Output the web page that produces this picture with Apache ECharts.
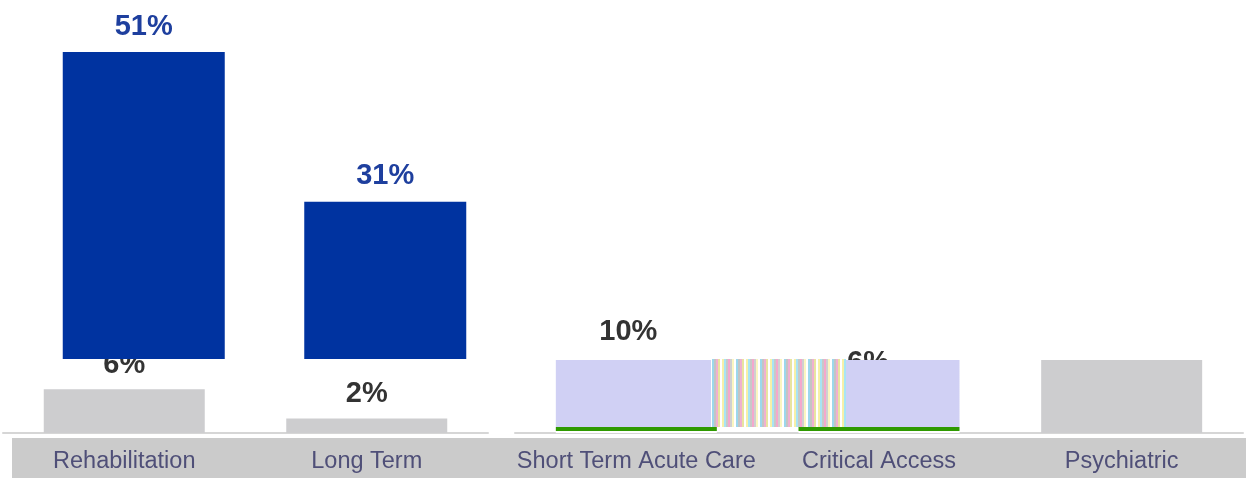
<!DOCTYPE html>
<html>
<head>
<meta charset="utf-8">
<script src="https://cdn.jsdelivr.net/npm/echarts@6/dist/echarts.min.js"></script>
<style>
  html, body { margin: 0; padding: 0; background: #fff; }
  #pic1 { width: 1246px; height: 478px; }
</style>
</head>
<body>
<div id="pic1"></div>
<script>
// chart data
var categories = ["Rehabilitation", "Long Term", "Short Term Acute Care", "Critical Access", "Psychiatric"];
var leadShare = [51, 31];             // blue bars, upper layer
var leadLabels = ["51%", "31%"];
var baseShare = [6, 2, 10, 10, 10];   // lower layer bars
var baseLabels = ["6%", "2%", "10%", "6%", ""];

var FONT = "'Liberation Sans', Arial, sans-serif";

// pastel stripes seen between the two lavender bars
function stripeCanvas() {
  var cols = ["#ffffff", "#f7f0a8", "#a8e4f4", "#c8c8c8", "#f4a8cc", "#d0d0d0",
              "#fbf6c0", "#ffffff", "#9cd8ec", "#c4c4c4", "#f0b0d0", "#e8e4a0"];
  var c = document.createElement("canvas");
  c.width = cols.length * 2;
  c.height = 4;
  var ctx = c.getContext("2d");
  cols.forEach(function (col, i) {
    ctx.fillStyle = col;
    ctx.fillRect(i * 2, 0, 2, 4);
  });
  return c;
}

var lavender = {
  type: "linear", x: 0, y: 0, x2: 0, y2: 1,
  colorStops: [
    { offset: 0, color: "#d0d0f4" },
    { offset: 0.918, color: "#d0d0f4" },
    { offset: 0.918, color: "#2f9a00" },
    { offset: 0.973, color: "#2f9a00" },
    { offset: 0.973, color: "#ffffff" },
    { offset: 1, color: "#ffffff" }
  ]
};

var numLabel = {
  show: true,
  position: "top",
  fontFamily: FONT,
  fontWeight: "bold",
  fontSize: 29,
  lineHeight: 29
};

var catLabel = {
  color: "#4f4f78", fontFamily: FONT, fontSize: 23.5, lineHeight: 23, margin: 17, interval: 0
};

var myChart = echarts.init(document.getElementById("pic1"));

var leftCats = categories.slice(0, 2);
var rightCats = categories.slice(2);

var option = {
  animation: false,
  backgroundColor: "#ffffff",
  graphic: [
    {
      type: "rect", z: -1, silent: true,
      shape: { x: 12, y: 438, width: 1234, height: 40 },
      style: { fill: "#cbcbcb" }
    },
    {
      type: "rect", z: 10, silent: true,
      shape: { x: 711, y: 359, width: 135, height: 68 },
      style: { fill: { image: stripeCanvas(), repeat: "repeat" } }
    }
  ],
  grid: [
    { left: 23, width: 483, top: 52, bottom: 119 },
    { left: 3, width: 485, top: 360, bottom: 45 },
    { left: 515, width: 728, top: 360, bottom: 45 }
  ],
  xAxis: [
    { gridIndex: 0, type: "category", data: leftCats, show: false },
    {
      gridIndex: 1, type: "category", data: leftCats,
      axisTick: { show: false },
      axisLine: { lineStyle: { color: "#d6d6d6", width: 2 } },
      axisLabel: catLabel
    },
    {
      gridIndex: 2, type: "category", data: rightCats,
      axisTick: { show: false },
      axisLine: { lineStyle: { color: "#d6d6d6", width: 2 } },
      axisLabel: catLabel
    }
  ],
  yAxis: [
    { gridIndex: 0, type: "value", min: 10, max: 51, show: false },
    { gridIndex: 1, type: "value", min: 0, max: 10, show: false },
    { gridIndex: 2, type: "value", min: 0, max: 10, show: false }
  ],
  series: [
    {
      type: "bar", name: "lead",
      xAxisIndex: 0, yAxisIndex: 0, z: 5,
      barWidth: 162,
      data: leadShare,
      itemStyle: { color: "#0033a0" },
      label: Object.assign({}, numLabel, {
        color: "#1e3f9e",
        distance: 11,
        formatter: function (p) { return leadLabels[p.dataIndex]; }
      })
    },
    {
      type: "bar", name: "base-left",
      xAxisIndex: 1, yAxisIndex: 1, z: 2,
      barWidth: 161,
      data: baseShare.slice(0, 2),
      itemStyle: { color: "#cdcdcf" },
      label: Object.assign({}, numLabel, {
        color: "#333333",
        distance: 10,
        formatter: function (p) { return baseLabels[p.dataIndex]; }
      })
    },
    {
      // label carrier under the right bars, so the bars can hide part of it
      type: "bar", name: "base-right-labels",
      xAxisIndex: 2, yAxisIndex: 2, z: 1,
      barWidth: 161, barGap: "-100%",
      data: baseShare.slice(2).map(function (v, i) {
        var item = { value: v };
        if (i === 0) item.label = { offset: [-8, 0] };
        if (i === 1) item.label = { offset: [-11, 31] };
        return item;
      }),
      itemStyle: { color: "rgba(0,0,0,0)" },
      label: Object.assign({}, numLabel, {
        color: "#333333",
        distance: 14,
        formatter: function (p) { return baseLabels[p.dataIndex + 2]; }
      })
    },
    {
      type: "bar", name: "base-right",
      xAxisIndex: 2, yAxisIndex: 2, z: 2,
      barWidth: 161, barGap: "-100%",
      data: baseShare.slice(2).map(function (v, i) {
        return { value: v, itemStyle: { color: i < 2 ? lavender : "#cdcdcf" } };
      })
    }
  ]
};

myChart.setOption(option);
</script>
</body>
</html>
